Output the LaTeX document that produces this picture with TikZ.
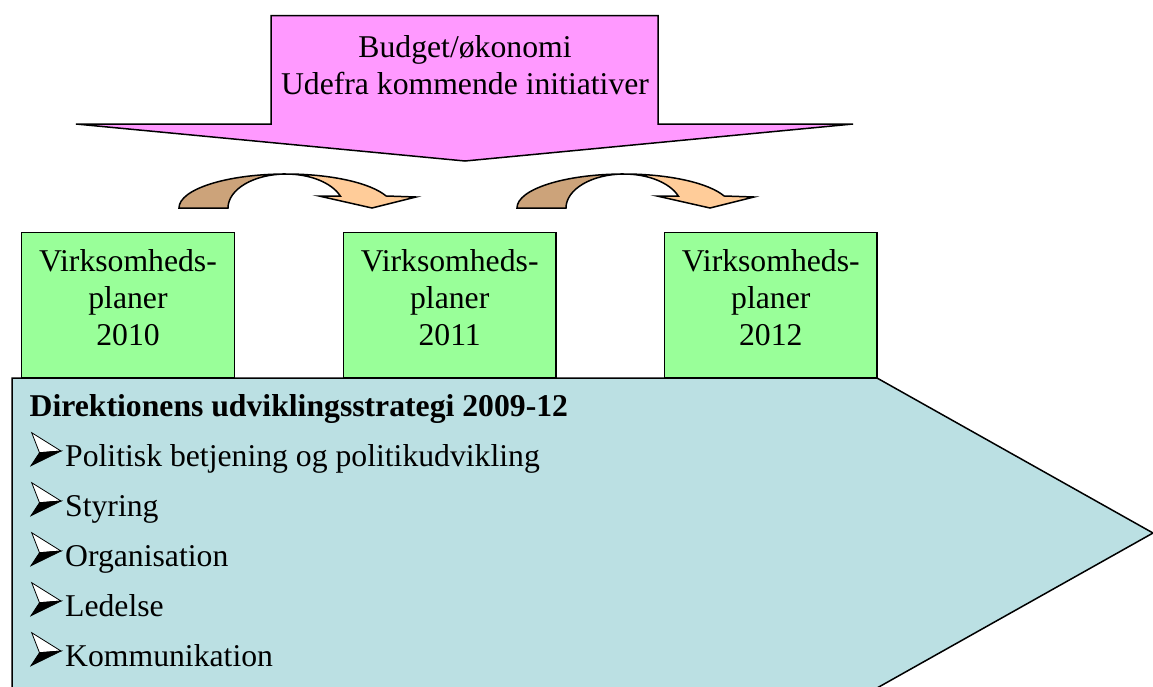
\documentclass[tikz,border=0pt]{standalone}
\usepackage{fontspec}
\setmainfont{Liberation Serif}
\definecolor{pinkfill}{HTML}{FF99FF}
\definecolor{greenfill}{HTML}{99FF99}
\definecolor{tealfill}{HTML}{BBE0E3}
\definecolor{lightorange}{HTML}{FFCC99}
\definecolor{darkorange}{HTML}{CCA37A}
\tikzset{
  outline/.style={draw=black, line width=1.5pt, line join=miter},
  planbox/.style={outline, fill=greenfill, minimum width=212.6pt, minimum height=145.4pt, inner sep=0pt},
  bigtext/.style={font=\fontsize{31.7}{37}\selectfont, align=center, inner sep=0pt},
  listtext/.style={font=\fontsize{31.7}{37}\selectfont, inner sep=0pt, anchor=base west},
  curvedarrow/.pic={
    \filldraw[outline, fill=darkorange]
      (-107pt,0pt) arc[start angle=180, end angle=90, x radius=107pt, y radius=34pt]
      arc[start angle=90, end angle=180, x radius=58pt, y radius=34pt] -- cycle;
    \filldraw[outline, fill=lightorange]
      (0,-34) arc[start angle=90, end angle=20.7, x radius=107pt, y radius=34pt]
      -- (130,-11) -- (86,0) -- (33,-12) -- (54.3,-12)
      arc[start angle=20.7, end angle=90, x radius=58pt, y radius=34pt] -- cycle;
  },
  listbullet/.pic={
    \filldraw[fill=white, draw=black, line width=0.8pt, line join=miter]
      (31.7,-34) -- (61,-15.7) -- (39.5,-14) -- cycle;
    \filldraw[fill=black, draw=black, line width=0.8pt, line join=miter]
      (39.5,-14) -- (61,-15.7) -- (31,-1) -- cycle;
  }
}
\begin{document}
\begin{tikzpicture}[x=1pt,y=-1pt]
\useasboundingbox (0,0) rectangle (1153,686);
\begin{scope}
  \clip (0,0) rectangle (1153,686);
  \draw[outline, fill=tealfill] (12,378) -- (877,378) -- (1153,533) -- (877,688) -- (12,688) -- cycle;
\end{scope}
% top arrow
\draw[outline, fill=pinkfill] (271,15.5) -- (658,15.5) -- (658,124) -- (853,124) -- (465,161) -- (76,124) -- (271,124) -- cycle;
\node[bigtext, anchor=north] (budget) at (465,35.5) {Budget/økonomi\\Udefra kommende initiativer};
% curved arrows
\pic at (286,208) {curvedarrow};
\pic at (624,208) {curvedarrow};
% plan boxes
\node[planbox] (p2010) at (128,305) {};
\node[planbox] (p2011) at (449.7,305) {};
\node[planbox] (p2012) at (770.8,305) {};
\node[bigtext, anchor=north] (t2010) at (128,248.8) {Virksomheds-\\planer\\2010};
\node[bigtext, anchor=north] (t2011) at (449.7,248.8) {Virksomheds-\\planer\\2011};
\node[bigtext, anchor=north] (t2012) at (770.8,248.8) {Virksomheds-\\planer\\2012};
% strategy list
\node[listtext, font=\fontsize{31.7}{37}\selectfont\bfseries] (title) at (29.5,416.7) {Direktionens udviklingsstrategi 2009-12};
\foreach \txt [count=\i] in {Politisk betjening og politikudvikling, Styring, Organisation, Ledelse, Kommunikation} {
  \pic at (0,{416.7+50*\i}) {listbullet};
  \node[listtext] (item\i) at (65,{416.7+50*\i}) {\txt};
}
\end{tikzpicture}
\end{document}
